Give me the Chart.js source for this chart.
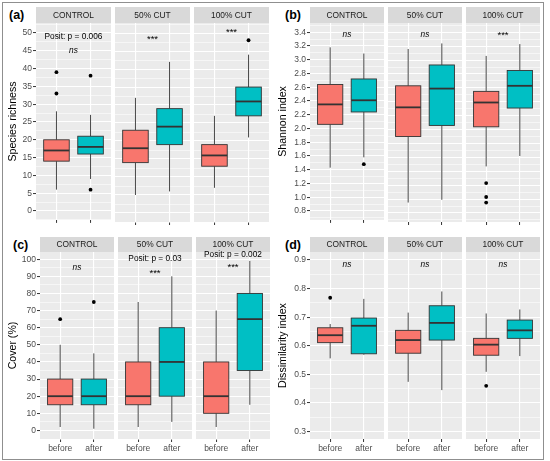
<!DOCTYPE html>
<html>
<head>
<meta charset="utf-8">
<script src="https://cdn.jsdelivr.net/npm/chart.js@4.4.1/dist/chart.umd.min.js"></script>
<style>
  body { margin: 0; width: 550px; height: 461px; position: relative; overflow: hidden; background: #fff;
         font-family: "Liberation Sans", Arial, sans-serif; }
  #frame { position: absolute; left: 2px; top: 2px; width: 540px; height: 456px; border: 1px solid #8f8f8f; }
  canvas { position: absolute; }
  .tag { position: absolute; font-weight: bold; font-size: 12.5px; line-height: 12px; color: #000; }
</style>
</head>
<body>
<div id="frame"></div>
<script>
const facets = ["CONTROL", "50% CUT", "100% CUT"];
const periods = ["before", "after"];
const fills = ["#F8766D", "#00BFC4"];

// box stats per facet: [lower whisker, q1, median, q3, upper whisker]
const richnessBefore = [[6, 14, 17, 20, 28], [5, 14, 18, 23, 32], [7, 13, 16, 19, 27]];
const richnessAfter = [[9, 16, 18, 21, 27], [6, 19, 24, 29, 42], [21, 27, 31, 35, 44]];
const richnessOutBefore = [[33, 39], [], []];
const richnessOutAfter = [[6, 38], [], [48]];
const richnessTicks = ["0", "5", "10", "15", "20", "25", "30", "35", "40", "45", "50"];
const richnessNotes = [
  [["Posit: p = 0.006", 48.9, ""], ["ns", 44.9, "italic"]],
  [["***", 48.3, ""]],
  [["***", 50.3, ""]]
];

const shannonBefore = [[1.43, 2.06, 2.35, 2.64, 3.18], [0.95, 1.90, 2.32, 2.63, 3.16], [1.47, 2.04, 2.39, 2.55, 3.06]];
const shannonAfter = [[1.58, 2.24, 2.41, 2.72, 3.09], [0.99, 2.06, 2.59, 2.93, 3.24], [1.62, 2.31, 2.63, 2.85, 3.23]];
const shannonOutBefore = [[], [], [1.23, 1.03, 0.95]];
const shannonOutAfter = [[1.48], [], []];
const shannonTicks = ["0.8", "1.0", "1.2", "1.4", "1.6", "1.8", "2.0", "2.2", "2.4", "2.6", "2.8", "3.0", "3.2", "3.4"];
const shannonNotes = [
  [["ns", 3.36, "italic"]],
  [["ns", 3.36, "italic"]],
  [["***", 3.36, ""]]
];

const coverBefore = [[2, 15, 20, 30, 50], [2, 15, 20, 40, 75], [2, 10, 20, 40, 70]];
const coverAfter = [[1, 15, 20, 30, 45], [5, 20, 40, 60, 90], [15, 35, 65, 80, 99]];
const coverOutBefore = [[65], [], []];
const coverOutAfter = [[75], [], []];
const coverTicks = ["0", "10", "20", "30", "40", "50", "60", "70", "80", "90", "100"];
const coverNotes = [
  [["ns", 94.8, "italic"]],
  [["Posit: p = 0.03", 100, ""], ["***", 91.5, ""]],
  [["Posit: p = 0.002", 102.5, ""], ["***", 95.5, ""]]
];

const dissimBefore = [[0.556, 0.611, 0.637, 0.663, 0.676], [0.474, 0.574, 0.620, 0.654, 0.716], [0.509, 0.567, 0.604, 0.626, 0.713]];
const dissimAfter = [[0.569, 0.572, 0.670, 0.697, 0.764], [0.445, 0.620, 0.680, 0.740, 0.790], [0.564, 0.626, 0.654, 0.690, 0.727]];
const dissimOutBefore = [[0.768], [], [0.46]];
const dissimOutAfter = [[], [], []];
const dissimTicks = ["0.3", "0.4", "0.5", "0.6", "0.7", "0.8", "0.9"];
const dissimNotes = [
  [["ns", 0.885, "italic"]],
  [["ns", 0.885, "italic"]],
  [["ns", 0.885, "italic"]]
];

const FONT = "'Liberation Sans', Arial, sans-serif";
const boxWidth = 0.75;

const panels = [
  { tag: "(a)", tagX: 9, tagY: 9, title: "Species richness", ticks: richnessTicks, min: -2.5, max: 52.8,
    before: richnessBefore, after: richnessAfter, outBefore: richnessOutBefore, outAfter: richnessOutAfter,
    notes: richnessNotes, lefts: [36, 115, 194], width: 75, axisW: 33, top: 7, stripH: 16, bottom: 222, xH: 4, showX: false },
  { tag: "(b)", tagX: 285, tagY: 9, title: "Shannon index", ticks: shannonTicks, min: 0.67, max: 3.534,
    before: shannonBefore, after: shannonAfter, outBefore: shannonOutBefore, outAfter: shannonOutAfter,
    notes: shannonNotes, lefts: [310, 388, 466], width: 74, axisW: 37, top: 7, stripH: 16, bottom: 222, xH: 4, showX: false },
  { tag: "(c)", tagX: 13, tagY: 239, title: "Cover (%)", ticks: coverTicks, min: -5, max: 104.2,
    before: coverBefore, after: coverAfter, outBefore: coverOutBefore, outAfter: coverOutAfter,
    notes: coverNotes, lefts: [40, 118, 196], width: 74, axisW: 37, top: 237, stripH: 15, bottom: 439, xH: 18, showX: true },
  { tag: "(d)", tagX: 285, tagY: 239, title: "Dissimilarity index", ticks: dissimTicks, min: 0.274, max: 0.928,
    before: dissimBefore, after: dissimAfter, outBefore: dissimOutBefore, outAfter: dissimOutAfter,
    notes: dissimNotes, lefts: [310, 388, 466], width: 74, axisW: 37, top: 237, stripH: 15, bottom: 439, xH: 18, showX: true }
];

// major ticks from the labels, minor ticks half way between
function buildTicks(labels, min, max) {
  const majors = labels.map(Number);
  const step = majors[1] - majors[0];
  const out = [];
  majors.forEach((m, k) => {
    if (m - step / 2 >= min - 1e-9) out.push({ value: m - step / 2, label: "", major: false });
    out.push({ value: m, label: labels[k], major: true });
  });
  const last = majors[majors.length - 1] + step / 2;
  if (last <= max + 1e-9) out.push({ value: last, label: "", major: false });
  return out;
}

function facetPlugin(p, f) {
  return {
    id: "facet" + f,
    beforeDraw(chart) {
      const { ctx, chartArea: a } = chart;
      ctx.save();
      ctx.fillStyle = "#EBEBEB";
      ctx.fillRect(a.left, a.top, a.right - a.left, a.bottom - a.top);
      ctx.fillStyle = "#D9D9D9";
      ctx.fillRect(a.left, a.top - p.stripH, a.right - a.left, p.stripH);
      ctx.fillStyle = "#1A1A1A";
      ctx.font = "8.4px " + FONT;
      ctx.textAlign = "center";
      ctx.textBaseline = "middle";
      ctx.fillText(facets[f], (a.left + a.right) / 2, a.top - p.stripH / 2 + 0.5);
      ctx.restore();
    },
    beforeDatasetsDraw(chart) {
      const { ctx, scales: { x, y } } = chart;
      [p.before[f], p.after[f]].forEach((s, i) => {
        const cx = x.getPixelForValue(i + 1);
        const half = x.getPixelForValue(i + 1 + boxWidth / 2) - cx;
        const [lo, q1, med, q3, hi] = s.map((v) => y.getPixelForValue(v));
        ctx.save();
        ctx.strokeStyle = "#333333";
        ctx.lineWidth = 0.9;
        ctx.beginPath();
        ctx.moveTo(cx, q3); ctx.lineTo(cx, hi);
        ctx.moveTo(cx, q1); ctx.lineTo(cx, lo);
        ctx.stroke();
        ctx.fillStyle = fills[i];
        ctx.fillRect(cx - half, q3, half * 2, q1 - q3);
        ctx.strokeRect(cx - half, q3, half * 2, q1 - q3);
        ctx.lineWidth = 1.8;
        ctx.beginPath();
        ctx.moveTo(cx - half, med); ctx.lineTo(cx + half, med);
        ctx.stroke();
        ctx.restore();
      });
    },
    afterDatasetsDraw(chart) {
      const { ctx, scales: { x, y } } = chart;
      ctx.save();
      ctx.fillStyle = "#000";
      ctx.textAlign = "center";
      ctx.textBaseline = "middle";
      p.notes[f].forEach(([text, v, style]) => {
        ctx.font = (style ? style + " " : "") + (text === "***" ? "9.5px " : "8.3px ") + FONT;
        ctx.fillText(text, x.getPixelForValue(1.5), y.getPixelForValue(v));
      });
      ctx.restore();
    }
  };
}

panels.forEach((p) => {
  const tag = document.createElement("div");
  tag.className = "tag";
  tag.textContent = p.tag;
  tag.style.left = p.tagX + "px";
  tag.style.top = p.tagY + "px";
  document.body.appendChild(tag);

  const yTicks = buildTicks(p.ticks, p.min, p.max);

  facets.forEach((name, f) => {
    const first = f === 0;
    const w = p.width + (first ? p.axisW : 0);
    const h = p.bottom + p.xH - p.top;
    const canvas = document.createElement("canvas");
    canvas.width = w;
    canvas.height = h;
    canvas.style.left = (p.lefts[f] - (first ? p.axisW : 0)) + "px";
    canvas.style.top = p.top + "px";
    canvas.style.width = w + "px";
    canvas.style.height = h + "px";
    document.body.appendChild(canvas);

    const points = p.outBefore[f].map((v) => ({ x: 1, y: v }))
      .concat(p.outAfter[f].map((v) => ({ x: 2, y: v })));

    new Chart(canvas, {
      type: "scatter",
      data: {
        datasets: [{
          data: points,
          pointRadius: 1.9,
          pointBackgroundColor: "#000",
          pointBorderWidth: 0
        }]
      },
      options: {
        responsive: false,
        animation: false,
        events: [],
        layout: { padding: { top: p.stripH, left: 0, right: 0, bottom: 0 }, autoPadding: false },
        plugins: { legend: { display: false }, tooltip: { enabled: false } },
        scales: {
          x: {
            type: "linear",
            min: 0.4,
            max: 2.6,
            afterBuildTicks: (s) => { s.ticks = [{ value: 1 }, { value: 2 }]; },
            afterFit: (s) => { s.height = p.xH; },
            border: { display: false },
            grid: { color: "#FFFFFF", lineWidth: 1.1, tickColor: "#333333", tickLength: 3, tickWidth: 1 },
            ticks: {
              display: p.showX,
              autoSkip: false,
              maxRotation: 0,
              padding: 2,
              color: "#4D4D4D",
              font: { family: FONT, size: 8.5 },
              callback: (v, i) => periods[i]
            }
          },
          y: {
            type: "linear",
            min: p.min,
            max: p.max,
            afterBuildTicks: (s) => { s.ticks = yTicks.map((t) => ({ value: t.value })); },
            afterFit: (s) => { s.width = first ? p.axisW : 0; },
            border: { display: false },
            grid: {
              color: "#FFFFFF",
              lineWidth: (c) => (yTicks[c.index] && yTicks[c.index].major ? 1.1 : 0.55),
              drawTicks: first,
              tickLength: 3,
              tickWidth: 1,
              tickColor: (c) => (yTicks[c.index] && yTicks[c.index].major ? "#333333" : "rgba(0,0,0,0)")
            },
            ticks: {
              display: first,
              autoSkip: false,
              padding: 1,
              color: "#4D4D4D",
              font: { family: FONT, size: 8.5 },
              callback: (v, i) => yTicks[i].label
            },
            title: {
              display: first,
              text: p.title,
              color: "#000",
              padding: { top: 4, bottom: 0 },
              font: { family: FONT, size: 10.6 }
            }
          }
        }
      },
      plugins: [facetPlugin(p, f)]
    });
  });
});
</script>
</body>
</html>
